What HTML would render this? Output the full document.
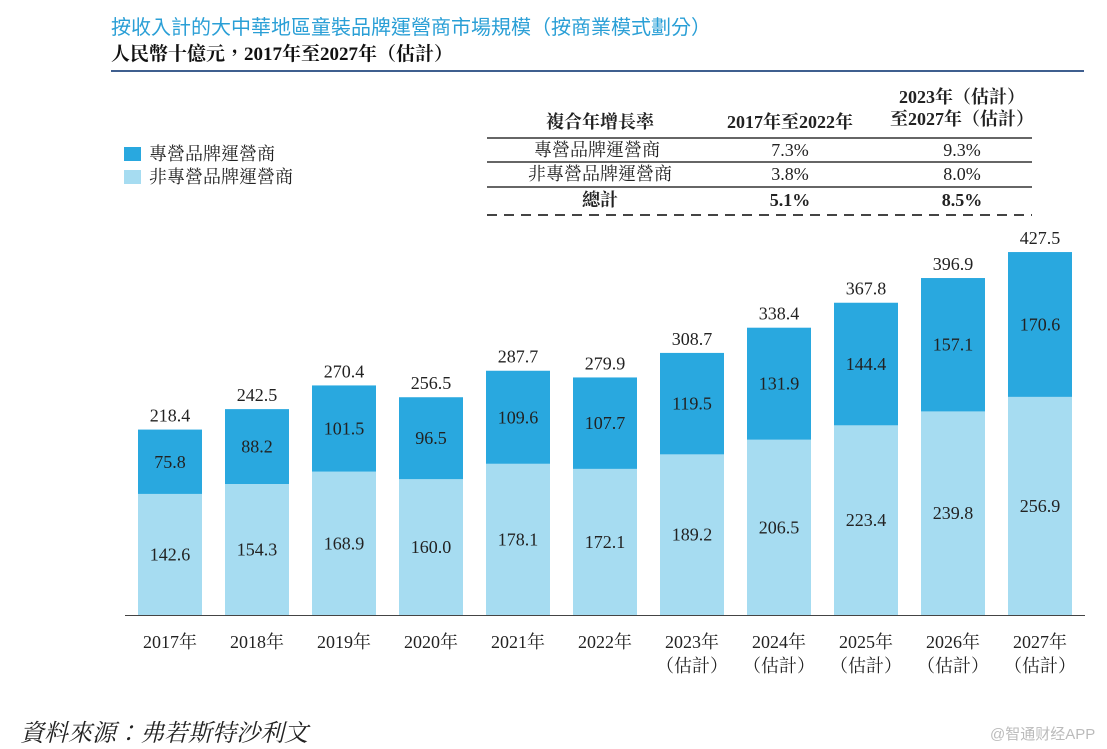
<!DOCTYPE html>
<html><head><meta charset="utf-8"><style>
body{margin:0;background:#fff;width:1107px;height:749px;overflow:hidden;position:relative;font-family:"Liberation Serif","Noto Serif CJK TC",serif;}
.abs{position:absolute;white-space:nowrap;}
</style></head><body>
<div class="abs" style="left:111px;top:11px;font-size:20px;color:#2a9fd6;font-family:'Liberation Sans','Noto Sans CJK TC',sans-serif;">按收入計的大中華地區童裝品牌運營商市場規模（按商業模式劃分）</div>
<div class="abs" style="left:111px;top:39px;font-size:19px;font-weight:bold;color:#111;">人民幣十億元，2017年至2027年（估計）</div>
<div class="abs" style="left:111px;top:70px;width:973px;height:2px;background:#3f5f8f;"></div>

<div class="abs" style="left:124px;top:140px;font-size:18px;color:#222;"><span style="display:inline-block;width:17px;height:14px;background:#29a8df;vertical-align:-1px;margin-right:8px"></span>專營品牌運營商</div>
<div class="abs" style="left:124px;top:163px;font-size:18px;color:#222;"><span style="display:inline-block;width:17px;height:14px;background:#a6dcf1;vertical-align:-1px;margin-right:8px"></span>非專營品牌運營商</div>

<svg class="abs" style="left:0;top:0" width="1107" height="749">
<g font-size="18" fill="#222" text-anchor="middle">
<text x="600" y="128" font-weight="bold">複合年增長率</text>
<text x="790" y="128" font-weight="bold">2017年至2022年</text>
<text x="962" y="103" font-weight="bold">2023年（估計）</text>
<text x="962" y="125" font-weight="bold">至2027年（估計）</text>
<line x1="487" x2="1032" y1="138" y2="138" stroke="#333" stroke-width="1.5"/>
<text x="597" y="156">專營品牌運營商</text><text x="790" y="156">7.3%</text><text x="962" y="156">9.3%</text>
<line x1="487" x2="1032" y1="162" y2="162" stroke="#333" stroke-width="1.5"/>
<text x="600" y="180">非專營品牌運營商</text><text x="790" y="180">3.8%</text><text x="962" y="180">8.0%</text>
<line x1="487" x2="1032" y1="187" y2="187" stroke="#333" stroke-width="1.5"/>
<text x="600" y="206" font-weight="bold">總計</text><text x="790" y="206" font-weight="bold">5.1%</text><text x="962" y="206" font-weight="bold">8.5%</text>
<line x1="487" x2="1032" y1="215" y2="215" stroke="#444" stroke-width="2" stroke-dasharray="10,7"/>
</g></svg>

<svg id="chart" class="abs" style="left:0;top:0" width="1107" height="749"></svg>

<div class="abs" style="left:20px;top:713px;font-size:24px;font-style:italic;color:#222;">資料來源：弗若斯特沙利文</div>
<div class="abs" style="left:990px;top:723px;font-size:15px;color:#bbb;font-family:'Liberation Sans','Noto Sans CJK SC',sans-serif;">@智通财经APP</div>

<script>
const categories=["2017年","2018年","2019年","2020年","2021年","2022年","2023年","2024年","2025年","2026年","2027年"];
const estimated=[false,false,false,false,false,false,true,true,true,true,true];
const nonExclusive=[142.6,154.3,168.9,160.0,178.1,172.1,189.2,206.5,223.4,239.8,256.9];
const exclusive=[75.8,88.2,101.5,96.5,109.6,107.7,119.5,131.9,144.4,157.1,170.6];
const totals=[218.4,242.5,270.4,256.5,287.7,279.9,308.7,338.4,367.8,396.9,427.5];
const svg=document.getElementById('chart');
const NS='http://www.w3.org/2000/svg';
const base=615,k=0.849,x0=170,step=87,bw=64;
const y=v=>base-v*k;
const xc=i=>x0+i*step;
function mk(tag,attrs,txt){const e=document.createElementNS(NS,tag);for(const a in attrs)e.setAttribute(a,attrs[a]);if(txt!=null)e.textContent=txt;svg.appendChild(e);return e;}
categories.forEach((c,i)=>{
 const t=nonExclusive[i]+exclusive[i];
 let r=mk('rect',{x:xc(i)-bw/2,y:y(nonExclusive[i]),width:bw,height:nonExclusive[i]*k,fill:'#a6dcf1'});
 
 
 r=mk('rect',{x:xc(i)-bw/2,y:y(t),width:bw,height:exclusive[i]*k,fill:'#29a8df'});
 
 
 let l=mk('text',{x:xc(i),y:y(nonExclusive[i]/2)+6,'text-anchor':'middle','font-size':18,fill:'#222'},nonExclusive[i].toFixed(1));
 
 
 l=mk('text',{x:xc(i),y:y(nonExclusive[i]+exclusive[i]/2)+6,'text-anchor':'middle','font-size':18,fill:'#222'},exclusive[i].toFixed(1));
 
 
 l=mk('text',{x:xc(i),y:y(totals[i])-8,'text-anchor':'middle','font-size':18,fill:'#222'},totals[i].toFixed(1));
 
 
 l=mk('text',{x:xc(i),y:648,'text-anchor':'middle','font-size':18,fill:'#222'},c);
 
 
 if(estimated[i]){l=mk('text',{x:xc(i),y:672,'text-anchor':'middle','font-size':18,fill:'#222'},'（估計）');
 
 }
});
const ax=mk('line',{x1:125,x2:1085,y1:base+0.5,y2:base+0.5,stroke:'#444','stroke-width':1});


</script>
</body></html>
